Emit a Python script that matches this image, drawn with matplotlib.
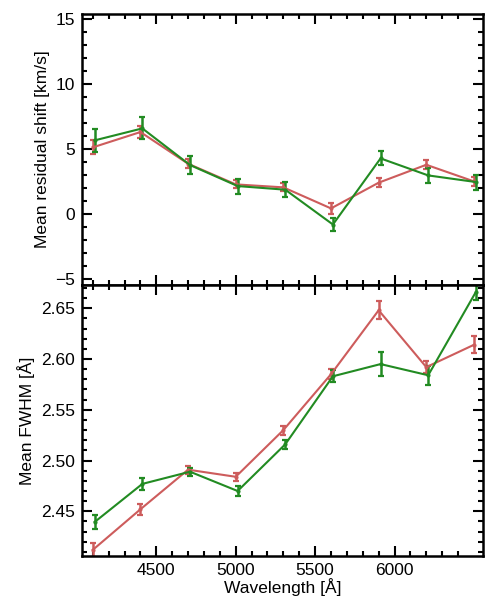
import numpy as np
import matplotlib
matplotlib.use("Agg")
import matplotlib.pyplot as plt
from matplotlib.ticker import MultipleLocator, FixedLocator, FormatStrFormatter

plt.rcParams["font.family"] = ["Liberation Sans", "DejaVu Sans"]

# wavelength bins (Angstrom)
wave = np.array([4100, 4400, 4700, 5000, 5300, 5600, 5900, 6200, 6500])
wave_shift = 12  # green series plotted slightly offset

# mean residual shift [km/s]
shift_red = [5.14, 6.32, 3.88, 2.29, 2.06, 0.44, 2.42, 3.80, 2.52]
shift_red_err = [0.53, 0.45, 0.35, 0.30, 0.30, 0.42, 0.33, 0.36, 0.37]
shift_green = [5.68, 6.60, 3.78, 2.16, 1.88, -0.80, 4.29, 2.98, 2.47]
shift_green_err = [0.86, 0.85, 0.67, 0.58, 0.58, 0.53, 0.54, 0.58, 0.58]

# mean FWHM [Angstrom]
fwhm_red = [2.412, 2.452, 2.491, 2.484, 2.530, 2.585, 2.648, 2.592, 2.614]
fwhm_red_err = [0.0066, 0.0056, 0.004, 0.004, 0.0044, 0.005, 0.0087, 0.006, 0.0085]
fwhm_green = [2.4395, 2.477, 2.489, 2.470, 2.516, 2.583, 2.595, 2.584, 2.666]
fwhm_green_err = [0.0067, 0.006, 0.004, 0.0046, 0.0046, 0.006, 0.0115, 0.0095, 0.008]

x_major = [4500, 5000, 5500, 6000]
x_minor = [w for w in range(4100, 6500, 100) if w not in x_major]

red = "#cd5c5c"
green = "#228b22"

fig = plt.figure(figsize=(4.91, 6.14), dpi=100)
ax1 = fig.add_axes([0.167, 0.536, 0.817, 0.441])
ax2 = fig.add_axes([0.167, 0.0945, 0.817, 0.4415], sharex=ax1)

for ax, yr, er, yg, eg in [(ax1, shift_red, shift_red_err, shift_green, shift_green_err),
                           (ax2, fwhm_red, fwhm_red_err, fwhm_green, fwhm_green_err)]:
    ax.errorbar(wave, yr, yerr=er, color=red, lw=1.5, elinewidth=1.8,
                capsize=2.5, capthick=1.6, marker="o", ms=2)
    ax.errorbar(wave + wave_shift, yg, yerr=eg, color=green, lw=1.5,
                elinewidth=1.8, capsize=2.5, capthick=1.6, marker="o", ms=2)
    ax.tick_params(which="both", direction="in", top=True, right=True,
                   labelsize=12.5, width=1.5)
    ax.tick_params(which="major", length=7, pad=5)
    ax.tick_params(which="minor", length=3.5)
    for s in ax.spines.values():
        s.set_linewidth(1.8)

ax1.set_xlim(4032, 6558)
ax1.xaxis.set_major_locator(FixedLocator(x_major))
ax1.xaxis.set_minor_locator(FixedLocator(x_minor))
ax1.tick_params(labelbottom=False)

ax1.set_ylim(-5.45, 15.4)
ax1.yaxis.set_major_locator(MultipleLocator(5))
ax1.yaxis.set_minor_locator(MultipleLocator(1))
ax1.set_ylabel("Mean residual shift [km/s]", fontsize=12.5)

ax2.set_ylim(2.406, 2.673)
ax2.yaxis.set_major_locator(MultipleLocator(0.05))
ax2.yaxis.set_minor_locator(MultipleLocator(0.01))
ax2.yaxis.set_major_formatter(FormatStrFormatter("%.2f"))
ax2.set_ylabel("Mean FWHM [Å]", fontsize=12.5)
ax2.set_xlabel("Wavelength [Å]", fontsize=12.5, labelpad=0)

fig.savefig("out.png", dpi=100)
